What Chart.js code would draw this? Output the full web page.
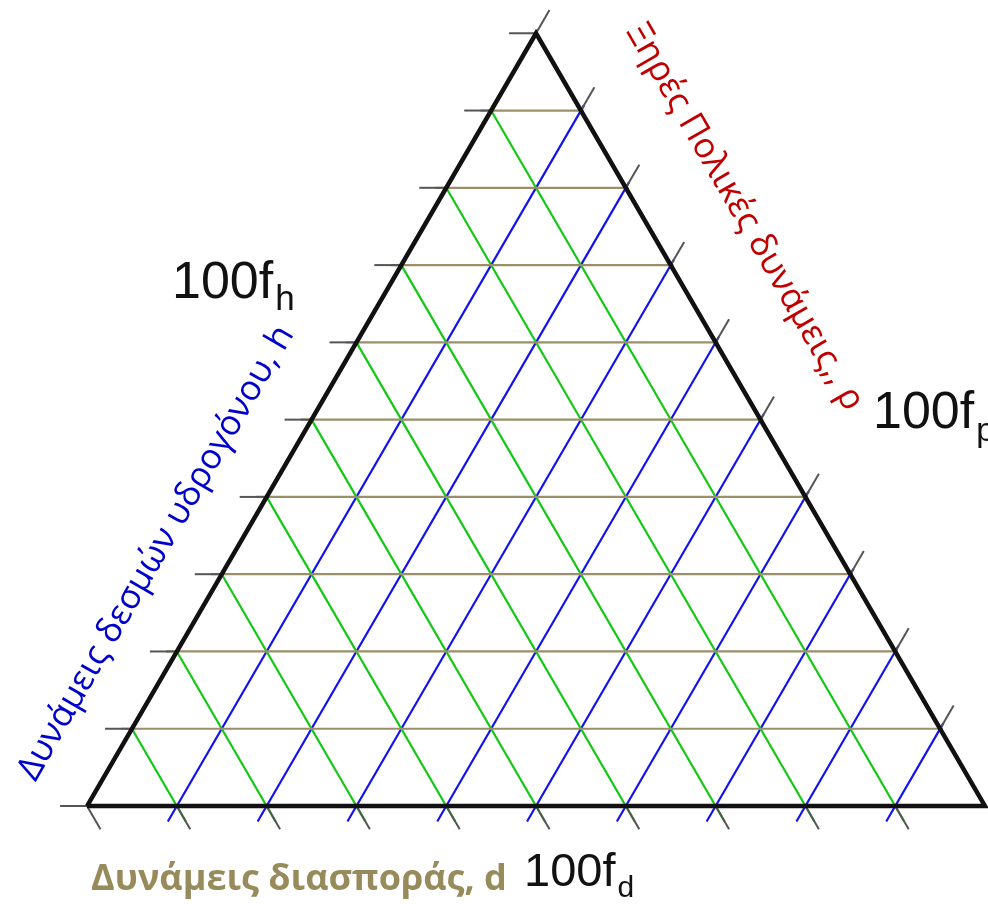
<!DOCTYPE html>
<html>
<head>
<meta charset="utf-8">
<script src="https://cdn.jsdelivr.net/npm/chart.js@4.4.0/dist/chart.umd.min.js"></script>
<style>
  html, body { margin: 0; padding: 0; background: #fff; }
  #wrap { position: relative; width: 988px; height: 904px; }
</style>
</head>
<body>
<div id="wrap"><canvas id="teas"></canvas></div>
<script>
// ── Teas diagram: fd (bottom-left corner), fp (bottom-right), fh (top) ──
// grid levels, in percent
const FH_LINES = [10, 20, 30, 40, 50, 60, 70, 80, 90];   // horizontal, tan
const FD_LINES = [10, 20, 30, 40, 50, 60, 70, 80, 90];   // parallel to right edge, green
const FP_LINES = [10, 20, 30, 40, 50, 60, 70, 80, 90];   // parallel to left edge, blue

// tick values on each side
const FH_TICKS = [0, 10, 20, 30, 40, 50, 60, 70, 80, 90, 100];  // left side
const FD_TICKS = [10, 20, 30, 40, 50, 60, 70, 80, 90, 100];     // bottom side
const FP_TICKS = [0, 10, 20, 30, 40, 50, 60, 70, 80, 90];       // right side

// outline corners as (fp, fh)
const OUTLINE_FP = [0, 100, 0, 0];
const OUTLINE_FH = [0, 0, 100, 0];

const SQ3 = Math.sqrt(3);
const TICK = 3;     // tick length, percent
const OVER = 2;     // how far grid lines run past the bottom edge

const TAN = '#9a8f68';
const GREEN = '#12c812';
const BLUE = '#1212ee';
const TICK_COLOR = '#555555';

// ternary (fp, fh) -> cartesian
const pt = (fp, fh) => ({ x: fp + fh / 2, y: fh * SQ3 / 2 });

function seg(a, b, color, width, order) {
  return {
    data: [a, b],
    showLine: true,
    borderColor: color,
    borderWidth: width,
    pointRadius: 0,
    fill: false,
    order,
  };
}

const datasets = [];

// outline
datasets.push({
  data: OUTLINE_FP.map((fp, i) => pt(fp, OUTLINE_FH[i])),
  showLine: true,
  borderColor: '#111111',
  borderWidth: 4.5,
  borderJoinStyle: 'miter',
  pointRadius: 0,
  fill: false,
  order: 0,
});

// ticks
FH_TICKS.forEach((h) => datasets.push(seg(pt(-TICK, h), pt(0, h), TICK_COLOR, 2, 1)));
FD_TICKS.forEach((d) => datasets.push(seg(pt(100 - d, 0), pt(100 - d + TICK, -TICK), TICK_COLOR, 2, 1)));
FP_TICKS.forEach((p) => datasets.push(seg(pt(p, 100 - p), pt(p, 100 - p + TICK), TICK_COLOR, 2, 1)));

// grid
FH_LINES.forEach((h) => datasets.push(seg(pt(-1.2, h), pt(100 - h + 0.3, h), TAN, 2.2, 2)));
FD_LINES.forEach((d) => datasets.push(seg(pt(0, 100 - d), pt(100 - d + OVER, -OVER), GREEN, 2.2, 2)));
FP_LINES.forEach((p) => datasets.push(seg(pt(p, -OVER), pt(p, 100 - p + 0.7), BLUE, 2.2, 2)));

// ── text: corner labels and rotated axis titles ──
const labelsPlugin = {
  id: 'teasLabels',
  afterDraw(chart) {
    const ctx = chart.ctx;
    ctx.save();

    const corner = (x, y, size, sub, subSize, drop) => {
      ctx.fillStyle = '#111';
      ctx.textAlign = 'left';
      ctx.textBaseline = 'alphabetic';
      ctx.font = `${size}px "Liberation Sans", Arial, sans-serif`;
      ctx.fillText('100f', x, y);
      const w = ctx.measureText('100f').width;
      ctx.font = `${subSize}px "Liberation Sans", Arial, sans-serif`;
      ctx.fillText(sub, x + w + 2, y + drop);
    };
    corner(172, 298, 52, 'h', 35, 12);
    corner(873, 428, 52, 'p', 33, 13);
    corner(524, 886, 47, 'd', 30, 11);

    // bottom title
    ctx.font = 'bold 36px "Open Sans", "DejaVu Sans", sans-serif';
    ctx.fillStyle = '#978b5c';
    ctx.textAlign = 'left';
    ctx.fillText('Δυνάμεις διασποράς, d', 91, 890);

    // left title, along the fh side
    ctx.save();
    ctx.translate(165, 558);
    ctx.rotate(-Math.PI / 3);
    ctx.font = '35px "Open Sans", sans-serif';
    ctx.fillStyle = '#0000cc';
    ctx.textAlign = 'center';
    ctx.fillText('Δυνάμεις δεσμών υδρογόνου, h', 0, 0);
    ctx.restore();

    // right title, along the fp side
    ctx.save();
    ctx.translate(736, 222);
    ctx.rotate(Math.PI / 3);
    ctx.font = '35px "Open Sans", sans-serif';
    ctx.fillStyle = '#c00000';
    ctx.textAlign = 'center';
    ctx.fillText('Ξηρές Πολικές δυνάμεις,, ρ', 0, 0);
    ctx.restore();

    ctx.restore();
  },
};

new Chart(document.getElementById('teas'), {
  type: 'scatter',
  data: { datasets },
  options: {
    responsive: true,
    maintainAspectRatio: false,
    animation: false,
    layout: { padding: 0 },
    plugins: { legend: { display: false }, tooltip: { enabled: false } },
    scales: {
      x: { type: 'linear', min: -9.69, max: 100.33, display: false },
      y: { type: 'linear', min: -10.98, max: 90.33, display: false },
    },
  },
  plugins: [labelsPlugin],
});
</script>
</body>
</html>
